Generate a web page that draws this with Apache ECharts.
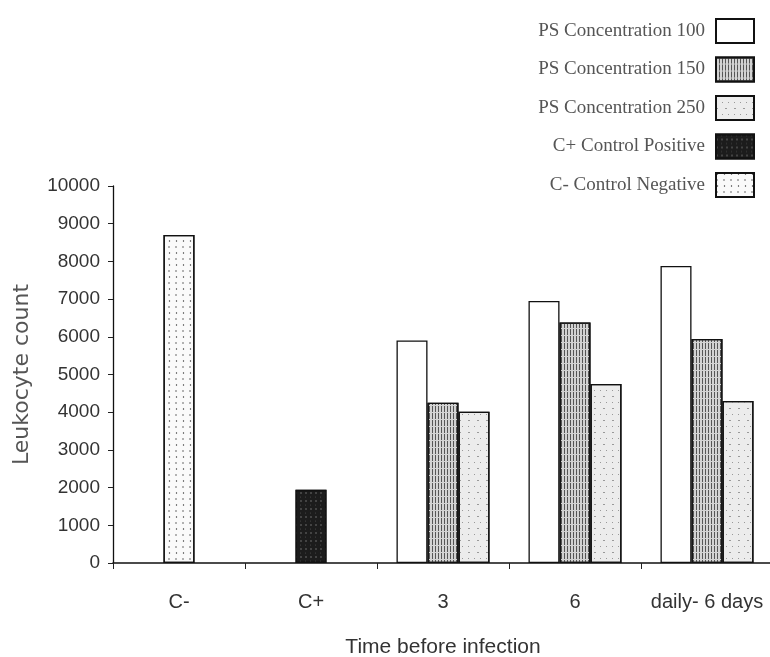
<!DOCTYPE html>
<html>
<head>
<meta charset="utf-8">
<script src="https://cdn.jsdelivr.net/npm/echarts@6/dist/echarts.min.js"></script>
<style>
html,body{margin:0;padding:0;background:#fff;}
#chart{width:770px;height:657px;}
</style>
</head>
<body>
<div id="chart"></div>
<script>
// ---- data ----
const categories = ['C-', 'C+', '3', '6', 'daily- 6 days'];
const ps100 = [null, null, 5900, 6950, 7880];
const ps150 = [null, null, 4250, 6380, 5940];
const ps250 = [null, null, 4010, 4750, 4300];
const controlPositive = [null, 1940, null, null, null];
const controlNegative = [8700, null, null, null, null];
const yTicks = { min: 0, max: 10000, interval: 1000 };
const names = {
  ps100: 'PS Concentration 100',
  ps150: 'PS Concentration 150',
  ps250: 'PS Concentration 250',
  pos: 'C+ Control Positive',
  neg: 'C- Control Negative'
};

const chart = echarts.init(document.getElementById('chart'), null, { renderer: 'canvas' });

const border = { borderColor: '#111', borderWidth: 1.3 };

const option = {
  backgroundColor: '#fff',
  animation: false,
  legend: {
    orient: 'vertical',
    right: 10,
    top: 13,
    align: 'right',
    icon: 'rect',
    itemWidth: 38,
    itemHeight: 24,
    itemGap: 12.5,
    data: [names.ps100, names.ps150, names.ps250, names.pos, names.neg],
    textStyle: { fontFamily: 'Liberation Serif', fontSize: 19, color: '#555', padding: [0, 6, 0, 0] }
  },
  grid: { left: 113, right: -3, top: 186, bottom: 94, containLabel: false, outerBoundsMode: 'none' },
  xAxis: {
    type: 'category',
    data: categories,
    name: 'Time before infection',
    nameLocation: 'middle',
    nameGap: 74,
    nameTextStyle: { fontFamily: 'Liberation Sans', fontSize: 21, color: '#333' },
    axisLine: { lineStyle: { color: '#111', width: 1.5 } },
    axisTick: { show: true, length: 6, interval: 0, lineStyle: { color: '#222' } },
    axisLabel: { interval: 0, margin: 29, fontFamily: 'Liberation Sans', fontSize: 20, color: '#333' }
  },
  yAxis: {
    type: 'value',
    min: yTicks.min,
    max: yTicks.max,
    interval: yTicks.interval,
    name: 'Leukocyte count',
    nameLocation: 'middle',
    nameGap: 80,
    nameTextStyle: { fontFamily: 'DejaVu Sans', fontSize: 22, color: '#555' },
    axisLine: { show: true, lineStyle: { color: '#111', width: 1.3 } },
    axisTick: { show: true, length: 5, lineStyle: { color: '#222' } },
    axisLabel: { margin: 13, fontFamily: 'Liberation Sans', fontSize: 19, color: '#333',
      formatter: function (v) { return String(v); } },
    splitLine: { show: false }
  },
  series: [
    {
      name: names.ps100, type: 'bar', data: ps100, barWidth: 31, barGap: '0%',
      itemStyle: Object.assign({ color: '#fff' }, border)
    },
    {
      name: names.ps150, type: 'bar', stack: 'mid', data: ps150, barWidth: 31, barGap: '0%',
      itemStyle: Object.assign({
        color: '#d2d2d2',
        decal: { symbol: 'rect', symbolSize: 1, dashArrayX: [1, 2], dashArrayY: [6, 1], color: '#555' }
      }, border)
    },
    {
      name: names.ps250, type: 'bar', data: ps250, barWidth: 31, barGap: '0%',
      itemStyle: Object.assign({
        color: '#ececec',
        decal: { symbol: 'rect', symbolSize: 1, dashArrayX: [[1, 5], [2, 7]], dashArrayY: [1, 5], color: '#999' }
      }, border)
    },
    {
      name: names.pos, type: 'bar', stack: 'mid', data: controlPositive, barWidth: 31, barGap: '0%',
      itemStyle: Object.assign({
        color: '#1c1c1c',
        decal: { symbol: 'circle', symbolSize: 0.8, dashArrayX: [[2, 3], [1, 4]], dashArrayY: [2, 2], color: '#777' }
      }, border)
    },
    {
      name: names.neg, type: 'bar', stack: 'mid', data: controlNegative, barWidth: 31, barGap: '0%',
      itemStyle: Object.assign({
        color: '#fafafa',
        decal: { symbol: 'circle', symbolSize: 0.7, dashArrayX: [[2, 5], [3, 4]], dashArrayY: [2, 4], color: '#333' }
      }, border)
    }
  ]
};

chart.setOption(option);
</script>
</body>
</html>
